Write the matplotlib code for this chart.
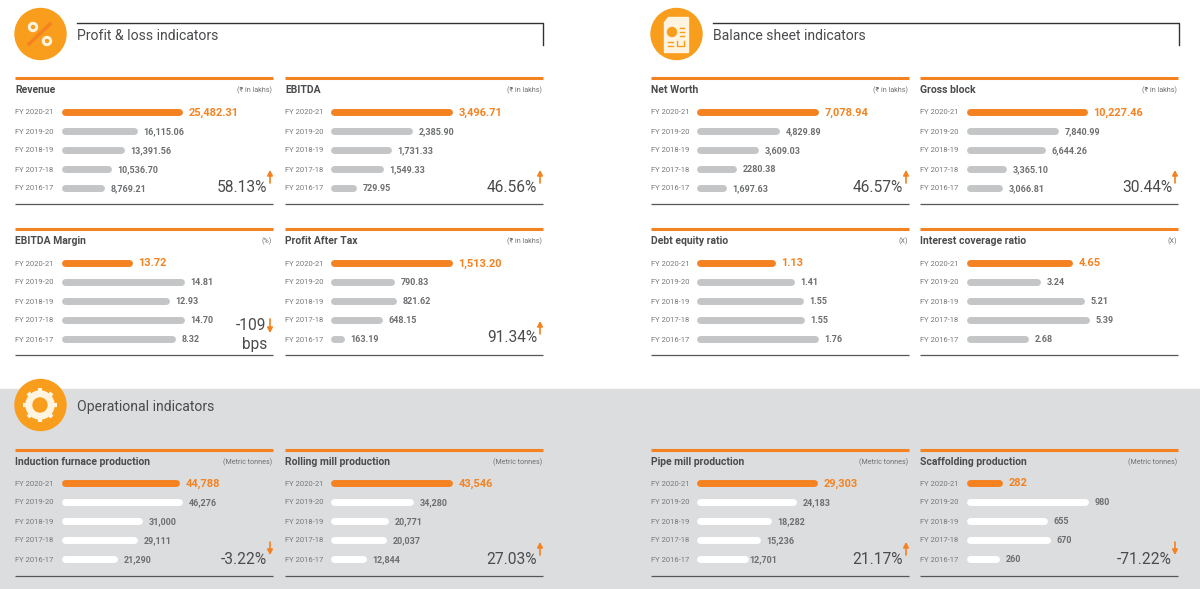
import numpy as np
from matplotlib import pyplot as plt
from matplotlib.patches import Circle, Rectangle, Polygon

W, H = 1200, 589
ORANGE = '#f58220'
ICON = '#f99d1c'
GREY_BAR = '#c4c5c7'
DARK = '#4a4b4d'
MID = '#6d6e70'

years = ['FY 2020-21', 'FY 2019-20', 'FY 2018-19', 'FY 2017-18', 'FY 2016-17']

# value labels as printed, bar lengths (they don't all scale with the value)
revenue = ['25,482.31', '16,115.06', '13,391.56', '10,536.70', '8,769.21']
revenue_bars = [121, 76, 63, 50, 43]
ebitda = ['3,496.71', '2,385.90', '1,731.33', '1,549.33', '729.95']
ebitda_bars = [122, 82, 61, 53, 26]
margin = ['13.72', '14.81', '12.93', '14.70', '8.32']
margin_bars = [71, 123, 108, 123, 114]
pat = ['1,513.20', '790.83', '821.62', '648.15', '163.19']
pat_bars = [122, 64, 66, 52, 14]
networth = ['7,078.94', '4,829.89', '3,609.03', '2280.38', '1,697.63']
networth_bars = [122, 83, 62, 40, 30]
grossblock = ['10,227.46', '7,840.99', '6,644.26', '3,365.10', '3,066.81']
grossblock_bars = [121, 92, 79, 40, 36]
debt = ['1.13', '1.41', '1.55', '1.55', '1.76']
debt_bars = [79, 98, 107, 108, 122]
interest = ['4.65', '3.24', '5.21', '5.39', '2.68']
interest_bars = [106, 74, 118, 123, 62]
induction = ['44,788', '46,276', '31,000', '29,111', '21,290']
induction_bars = [118, 121, 81, 76, 56]
rolling = ['43,546', '34,280', '20,771', '20,037', '12,844']
rolling_bars = [122, 83, 58, 56, 36]
pipe = ['29,303', '24,183', '18,282', '15,236', '12,701']
pipe_bars = [121, 100, 75, 64, 52]
scaffold = ['282', '980', '655', '670', '260']
scaffold_bars = [36, 122, 81, 84, 33]

col_x = [15, 285, 651, 920]
bar_start = [62, 331, 697, 967]
row_top = [78, 229, 450]
rupee = '(₹ in lakhs)'
tonnes = '(Metric tonnes)'

# col, row, title, unit, labels, bars, change, up?
panels = [
    (0, 0, 'Revenue', rupee, revenue, revenue_bars, '58.13%', True),
    (1, 0, 'EBITDA', rupee, ebitda, ebitda_bars, '46.56%', True),
    (0, 1, 'EBITDA Margin', '(%)', margin, margin_bars, '-109\nbps', False),
    (1, 1, 'Profit After Tax', rupee, pat, pat_bars, '91.34%', True),
    (2, 0, 'Net Worth', rupee, networth, networth_bars, '46.57%', True),
    (3, 0, 'Gross block', rupee, grossblock, grossblock_bars, '30.44%', True),
    (2, 1, 'Debt equity ratio', '(X)', debt, debt_bars, None, None),
    (3, 1, 'Interest coverage ratio', '(X)', interest, interest_bars, None, None),
    (0, 2, 'Induction furnace production', tonnes, induction, induction_bars, '-3.22%', False),
    (1, 2, 'Rolling mill production', tonnes, rolling, rolling_bars, '27.03%', True),
    (2, 2, 'Pipe mill production', tonnes, pipe, pipe_bars, '21.17%', True),
    (3, 2, 'Scaffolding production', tonnes, scaffold, scaffold_bars, '-71.22%', False),
]

plt.rcParams['font.family'] = ['Roboto', 'DejaVu Sans']

fig = plt.figure(figsize=(W / 100, H / 100), dpi=100)
# page axes in pixels, y pointing down
page = fig.add_axes([0, 0, 1, 1])
page.set_xlim(0, W)
page.set_ylim(H, 0)
page.axis('off')
page.add_patch(Rectangle((0, 389), W, H - 389, color='#dcddde', zorder=0))


def header(x, y, text, rule):
    page.add_patch(Circle((x + 25.5, y), 25.5, color=ICON, zorder=2))
    page.text(x + 62, y + 1.5, text, fontsize=10.1, color=DARK, va='center')
    if rule:
        page.plot([x + 62, x + 528, x + 528], [23, 23, 45], color='#333333', lw=1)


header(15, 34, 'Profit & loss indicators', True)
header(651, 34, 'Balance sheet indicators', True)
header(15, 405, 'Operational indicators', False)

# percent icon
page.plot([29, 50], [44, 24], color=ORANGE, lw=2.5, zorder=3)
for cx, cy in [(33, 27), (47, 41)]:
    page.add_patch(Circle((cx, cy), 4.5, color='#fff4e0', zorder=3))
    page.add_patch(Circle((cx, cy), 1.5, color=ICON, zorder=4))

# document icon
page.add_patch(Polygon([(668, 17), (688, 17), (688, 52), (664, 52), (664, 22)], color='#fff4e0', zorder=3))
page.add_patch(Circle((672, 32), 4.5, color=ICON, zorder=4))
for yy in (28, 32, 36):
    page.plot([680, 684], [yy, yy], color=ICON, lw=1, zorder=4)
page.plot([668, 673], [42, 42], color=ICON, lw=1, zorder=4)
page.plot([668, 673], [46, 46], color=ICON, lw=1, zorder=4)
page.plot([677, 677, 684, 684], [41, 46, 46, 41], color=ICON, lw=1, zorder=4)

# gear icon
page.add_patch(Circle((40, 405), 14, color='#fff4e0', zorder=3))
for a in np.deg2rad(np.arange(0, 360, 45)):
    page.plot([40 + 12 * np.cos(a), 40 + 17 * np.cos(a)], [405 + 12 * np.sin(a), 405 + 17 * np.sin(a)],
              color='#fff4e0', lw=3, zorder=3, solid_capstyle='butt')
page.add_patch(Circle((40, 405), 7, color=ICON, zorder=4))

for col, row, title, unit, labels, bars, change, up in panels:
    x0 = col_x[col]
    top = row_top[row]
    x1 = x0 + 258
    page.plot([x0, x1], [top, top], color=ORANGE, lw=2.2, solid_capstyle='butt')
    page.plot([x0, x1], [top + 126, top + 126], color='#55565a', lw=0.9, solid_capstyle='butt')
    page.text(x0, top + 12, title, fontsize=7.5, fontweight='bold', color=DARK, va='center')
    page.text(x1 - 1, top + 12, unit, fontsize=5.1, color=MID, va='center', ha='right')

    first_y = top + 34 - (1 if row == 2 else 0)
    rows_y = first_y + 19 * np.arange(5)

    # bar axes: one unit is one pixel, round caps stick out 3.5px either side
    ax = fig.add_axes([(bar_start[col] + 2.8) / W, 1 - (rows_y[-1] + 9.5) / H, 200 / W, 95 / H])
    ax.set_xlim(0, 200)
    ax.set_ylim(4.5, -0.5)
    ax.axis('off')
    y = np.arange(5)
    lengths = np.array(bars) - 7
    colors = [ORANGE] + [GREY_BAR if row < 2 else 'white'] * 4
    ax.hlines(y, 0, lengths, colors=colors, lw=5.0, capstyle='round', clip_on=False)
    for i in y:
        gap = 7
        if labels[i] == '12,701':
            gap = 3.5
        ax.annotate(labels[i], (lengths[i], i), xytext=(gap, -0.3), textcoords='offset points',
                    fontsize=7.9 if i == 0 else 6.5, fontweight='bold',
                    color=ORANGE if i == 0 else MID, va='center', annotation_clip=False)
        page.text(x0, rows_y[i] + 0.5, years[i], fontsize=5.5, color='#77787b', va='center')

    if change is None:
        continue
    if '\n' in change:
        first, second = change.split('\n')
        page.text(x1 - 7, top + 97, first, fontsize=11.2, color=DARK, ha='right', va='center')
        page.text(x1 - 6, top + 115, second, fontsize=11.2, color=DARK, ha='right', va='center')
        ay0, ay1 = top + 90, top + 104
    else:
        page.text(x1 - 6, top + 109, change, fontsize=11.2, color=DARK, ha='right', va='center')
        ay0, ay1 = top + 92, top + 105
    ax_from, ax_to = (ay1, ay0) if up else (ay0, ay1)
    page.annotate('', xy=(x1 - 3, ax_to), xytext=(x1 - 3, ax_from),
                  arrowprops=dict(arrowstyle='-|>,head_width=0.16,head_length=0.3', color=ORANGE, lw=1.2,
                                  shrinkA=0, shrinkB=0))

fig.savefig('out.png', dpi=100)
